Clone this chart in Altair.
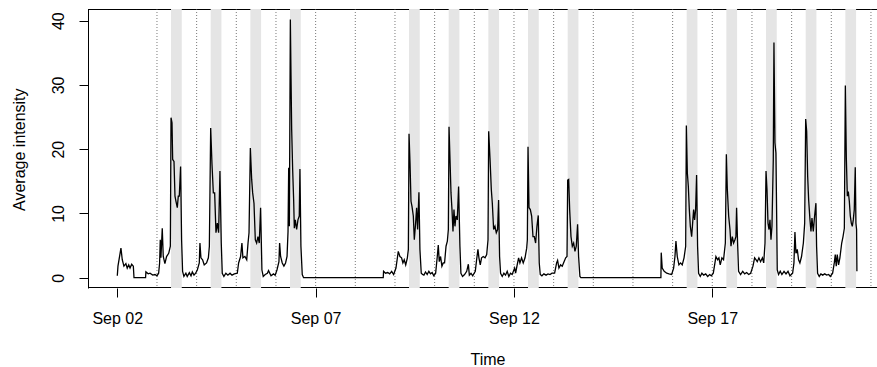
import altair as alt
import pandas as pd
from datetime import datetime, timedelta, timezone

# Each day: (hour of day, average intensity)
sep02 = [(0.0,0.3),(0.4,1.8),(2.2,4.6),(3.0,2.8),(4.0,1.8),(5.2,2.2),(6.0,1.5),(6.9,2.0),(7.7,1.5),(8.7,2.1),(9.7,1.8),(10.1,0.0),(17.1,0.0),(17.3,0.9),(18.7,0.6),(19.8,0.7),(21.4,0.4),(22.8,0.5)]
sep03 = [(0.0,0.3),(1.0,0.7),(1.6,2.3),(2.0,5.9),(2.4,3.1),(3.2,7.7),(3.8,3.3),(4.8,2.2),(5.8,3.3),(7.1,3.8),(8.1,4.9),(8.5,24.9),(9.1,24.1),(9.5,18.4),(10.3,18.1),(10.9,12.7),(11.5,11.9),(12.3,10.9),(12.9,12.7),(13.5,12.7),(14.3,17.3),(14.9,5.9),(15.5,1.0),(16.3,0.2),(17.5,0.7),(18.3,0.2),(19.6,0.8),(20.6,0.3),(21.4,0.9),(22.4,0.4),(23.4,0.7)]
sep04 = [(0.4,1.2),(1.6,2.3),(2.0,5.4),(2.6,3.1),(3.6,2.8),(4.6,2.0),(6.0,2.3),(7.1,3.1),(7.7,4.9),(8.5,23.3),(9.3,17.6),(10.1,13.2),(10.9,13.2),(11.7,7.0),(12.5,8.5),(13.3,7.0),(14.1,16.6),(14.9,5.4),(15.5,0.7),(16.5,0.2),(17.7,0.7),(18.9,0.4),(20.2,0.7),(21.4,0.4),(22.8,0.6)]
sep05 = [(0.6,0.7),(1.4,2.3),(2.6,3.3),(3.4,5.4),(4.0,3.1),(5.2,3.3),(6.3,2.8),(7.1,5.4),(7.7,7.0),(8.5,20.2),(9.3,15.3),(9.9,13.2),(10.7,11.6),(11.5,5.9),(12.3,5.4),(13.1,6.4),(13.9,5.4),(14.7,10.9),(15.5,1.2),(16.3,0.2),(17.5,0.5),(18.8,0.7),(19.5,1.1),(21.0,0.3),(22.5,0.6),(23.5,0.4)]
sep06 = [(0.6,1.2),(1.8,2.5),(2.2,5.4),(2.8,3.3),(3.8,2.3),(4.8,1.8),(5.8,2.3),(6.7,3.3),(7.3,7.2),(7.7,17.1),(8.1,8.0),(8.7,40.2),(9.1,31.4),(9.5,23.1),(10.1,16.8),(10.7,12.1),(11.1,7.7),(11.7,9.0),(12.5,7.5),(13.3,9.0),(14.1,9.6),(14.5,16.9),(15.1,4.9),(15.9,0.5),(16.7,0.0)]
sep08 = [(16.9,0.0),(17.1,1.0),(18.3,0.7),(19.6,0.8),(20.8,0.6),(22.0,1.0),(23.2,0.5)]
sep09 = [(0.6,1.5),(2.0,4.1),(3.0,3.3),(4.0,3.1),(4.8,2.3),(5.6,2.8),(6.5,2.0),(7.5,3.1),(8.1,4.4),(8.5,22.4),(9.1,17.9),(9.7,11.9),(10.3,11.1),(11.1,9.6),(11.7,5.9),(12.5,8.5),(13.1,10.9),(13.7,7.5),(14.5,13.3),(15.1,4.4),(15.9,0.7),(16.7,0.5),(17.5,0.4),(18.5,0.9),(19.5,0.5),(20.5,1.0),(21.5,0.6),(22.5,0.8),(23.5,0.3)]
sep10 = [(0.6,0.7),(1.6,3.3),(2.2,5.1),(2.8,2.5),(3.6,3.3),(4.4,1.8),(5.2,2.3),(6.0,2.3),(6.9,4.9),(7.7,5.7),(8.3,7.5),(8.7,23.5),(9.3,18.4),(9.9,13.2),(10.5,10.6),(11.1,7.2),(11.7,10.6),(12.3,8.0),(12.9,9.6),(13.7,9.0),(14.5,14.2),(15.3,4.9),(15.9,0.7),(16.9,0.2),(18.1,0.5),(19.4,1.0),(20.4,2.1),(21.0,0.4),(22.0,0.7),(23.0,0.3)]
sep11 = [(0.6,1.0),(1.4,2.8),(2.2,4.4),(2.8,3.1),(3.6,2.0),(4.4,3.1),(5.4,3.3),(6.5,3.1),(7.5,3.6),(8.3,5.9),(8.7,22.8),(9.5,18.6),(10.3,13.7),(10.9,11.6),(11.7,7.5),(12.5,8.0),(13.3,7.0),(14.1,7.5),(14.7,12.1),(15.3,3.3),(15.9,0.7),(16.9,0.2),(17.9,0.7),(18.9,0.4),(19.9,1.0),(20.9,0.2),(21.9,0.7),(22.9,0.5)]
sep12 = [(0.4,1.5),(1.0,0.7),(1.8,1.8),(2.8,3.1),(3.6,2.3),(4.6,3.1),(5.6,2.3),(6.7,3.1),(7.7,4.6),(8.1,5.9),(8.5,20.4),(9.1,10.9),(9.9,10.6),(10.7,9.6),(11.5,6.4),(12.3,6.4),(13.1,5.4),(13.9,8.0),(14.7,9.7),(15.3,2.3),(15.9,0.5),(16.9,0.3),(18.1,0.6),(19.4,0.4),(20.6,0.6),(21.8,0.5),(23.0,0.7)]
sep13 = [(0.6,0.7),(1.8,2.3),(2.4,2.7),(3.2,1.5),(4.2,2.0),(5.2,1.8),(6.3,2.5),(7.3,3.1),(8.1,3.3),(8.5,15.2),(9.1,15.3),(9.7,10.6),(10.5,6.4),(11.3,4.9),(12.1,5.4),(12.9,4.1),(13.7,4.9),(14.5,8.3),(15.1,3.3),(15.9,0.2),(16.5,0.0)]
sep15 = [(16.9,0.0),(17.1,3.9),(17.7,1.5),(18.9,1.0),(20.4,0.7),(21.8,0.6),(23.4,0.5)]
sep16 = [(0.6,1.5),(1.4,3.3),(2.0,5.7),(2.8,3.3),(3.8,2.0),(4.8,2.3),(5.8,2.0),(6.9,3.1),(7.9,4.9),(8.3,23.7),(8.9,16.3),(9.5,14.2),(10.1,10.6),(10.7,8.0),(11.5,6.4),(12.1,8.5),(12.7,10.6),(13.3,9.0),(13.9,10.6),(14.5,16.0),(15.1,4.9),(15.7,0.7),(16.7,0.2),(17.7,0.7),(18.8,0.4),(20.0,0.6),(21.2,0.2),(22.4,0.5),(23.4,0.3)]
sep17 = [(0.6,0.7),(1.6,2.3),(2.2,3.3),(3.2,2.8),(4.0,3.1),(4.8,2.0),(5.8,3.1),(6.8,2.8),(7.9,5.4),(8.5,19.2),(9.1,13.7),(9.9,9.6),(10.7,7.5),(11.3,4.9),(12.1,6.4),(12.9,5.4),(13.7,5.9),(14.3,6.4),(14.7,10.9),(15.3,5.4),(15.9,1.0),(17.1,0.5),(18.4,1.0),(19.6,0.6),(20.8,0.8),(22.0,0.5),(23.2,0.7)]
sep18 = [(0.6,1.8),(1.6,3.1),(2.4,2.8),(3.2,2.5),(4.2,3.1),(5.2,2.5),(6.3,3.1),(7.1,2.3),(7.9,5.4),(8.5,16.6),(9.1,13.7),(9.7,8.5),(10.3,7.5),(10.9,9.0),(11.5,5.9),(12.1,8.0),(12.9,18.4),(13.3,36.6),(13.9,21.0),(14.5,19.4),(14.9,10.6),(15.3,1.2),(16.1,0.5),(17.1,1.0),(18.1,0.5),(19.4,1.0),(20.6,0.6),(21.8,1.0),(23.0,0.3)]
sep19 = [(0.6,0.7),(1.4,2.3),(2.0,7.1),(2.6,3.8),(3.4,4.4),(4.2,2.8),(5.0,2.3),(6.0,3.3),(7.1,5.4),(7.9,8.5),(8.5,24.7),(9.1,22.8),(9.7,15.8),(10.3,12.1),(11.1,9.0),(11.7,7.2),(12.3,9.3),(13.1,7.2),(13.9,9.6),(14.7,11.6),(15.1,4.9),(15.7,0.7),(16.7,0.2),(17.7,0.6),(18.8,0.4),(20.0,0.6),(21.2,0.4),(22.4,0.5),(23.4,0.2)]
sep20 = [(0.8,0.7),(1.8,2.3),(2.4,3.6),(3.0,1.8),(3.6,3.6),(4.4,2.0),(5.2,3.1),(6.3,5.4),(7.1,6.4),(7.9,7.7),(8.5,29.9),(9.1,18.6),(9.7,12.7),(10.3,13.4),(10.9,11.9),(11.5,9.6),(12.1,8.5),(12.7,8.0),(13.3,9.0),(13.9,10.6),(14.5,17.2),(14.9,8.5),(15.3,7.5),(15.5,1.0)]

series = [("2013-09-02", sep02), ("2013-09-03", sep03), ("2013-09-04", sep04),
          ("2013-09-05", sep05), ("2013-09-06", sep06), ("2013-09-08", sep08),
          ("2013-09-09", sep09), ("2013-09-10", sep10), ("2013-09-11", sep11),
          ("2013-09-12", sep12), ("2013-09-13", sep13), ("2013-09-15", sep15),
          ("2013-09-16", sep16), ("2013-09-17", sep17), ("2013-09-18", sep18),
          ("2013-09-19", sep19), ("2013-09-20", sep20)]

# shaded daytime windows (weekdays)
band_days = ["2013-09-03", "2013-09-04", "2013-09-05", "2013-09-06",
             "2013-09-09", "2013-09-10", "2013-09-11", "2013-09-12", "2013-09-13",
             "2013-09-16", "2013-09-17", "2013-09-18", "2013-09-19", "2013-09-20"]
band_start_hour = 8.5
band_end_hour = 15.0

midnight_days = ["2013-09-%02d" % d for d in range(3, 22)]
tick_days = ["2013-09-02", "2013-09-07", "2013-09-12", "2013-09-17"]


def ms(day, hour=0.0):
    dt = datetime.fromisoformat(day).replace(tzinfo=timezone.utc) + timedelta(hours=hour)
    return int(dt.timestamp() * 1000)


line_df = pd.DataFrame([{"t": ms(d, h), "v": v} for d, pts in series for h, v in pts])
band_df = pd.DataFrame([{"t": ms(d, band_start_hour), "e": ms(d, band_end_hour)} for d in band_days])
mid_df = pd.DataFrame([{"t": ms(d)} for d in midnight_days])
edge_df = pd.DataFrame({"k": [0]})

W, H = 789, 279
FONT = "Liberation Sans"
xscale = alt.Scale(type="utc", domain=[ms("2013-09-02", -17.73), ms("2013-09-02", 459.65)], nice=False)
yscale = alt.Scale(domain=[-1.60, 41.82], nice=False, zero=False)

xaxis = alt.Axis(
    values=[ms(d) for d in tick_days],
    labelExpr="utcFormat(datum.value, '%b %d')",
    title="Time", grid=False, domain=False, tickSize=9, labelPadding=26,
    labelBaseline="alphabetic", labelAlign="center",
    labelFontSize=16, labelFont=FONT, labelColor="black",
    titleFontSize=16, titleFont=FONT, titleColor="black", titleFontWeight="normal",
    titleX=399.5, titleY=76, titleBaseline="alphabetic", titleAlign="center",
    tickColor="black", labelFlush=False, labelOverlap=False)

yaxis = alt.Axis(
    values=[0, 10, 20, 30, 40], title="Average intensity", grid=False,
    tickSize=9, labelPadding=15.5, labelAngle=270, labelAlign="center",
    labelBaseline="alphabetic", labelFontSize=16, labelFont=FONT, labelColor="black",
    titleFontSize=16, titleFont=FONT, titleColor="black", titleFontWeight="normal",
    titleAngle=270, titleX=-63.2, titleY=140.2, titleAlign="center",
    titleBaseline="alphabetic", domainColor="black", tickColor="black",
    labelFlush=False, labelOverlap=False)

top_line = alt.Chart(edge_df).mark_rule(color="black", strokeWidth=1).encode(
    x=alt.value(0), x2=alt.value(W), y=alt.value(0.5))
bottom_line = alt.Chart(edge_df).mark_rule(color="black", strokeWidth=1).encode(
    x=alt.value(0), x2=alt.value(W), y=alt.value(H - 0.5))

bands = alt.Chart(band_df).mark_rect(color="#e5e5e5").encode(
    x=alt.X("t:T", scale=xscale, axis=xaxis),
    x2="e:T",
    y=alt.value(0),
    y2=alt.value(H),
)

midlines = alt.Chart(mid_df).mark_rule(color="#555555", strokeWidth=0.8, strokeDash=[1, 2]).encode(
    x=alt.X("t:T", scale=xscale, axis=xaxis)
)

line = alt.Chart(line_df).mark_line(color="black", strokeWidth=1.3, clip=True).encode(
    x=alt.X("t:T", scale=xscale, axis=xaxis),
    y=alt.Y("v:Q", scale=yscale, axis=yaxis),
)

chart = alt.layer(top_line, bottom_line, bands, midlines, line).properties(
    width=W, height=H,
    padding={"left": 88, "top": 9, "right": 0, "bottom": 79},
    autosize=alt.AutoSizeParams(type="none"),
    background="white",
).configure_view(stroke=None)

chart.save("out.html", embed_options={"renderer": "svg", "actions": False})
